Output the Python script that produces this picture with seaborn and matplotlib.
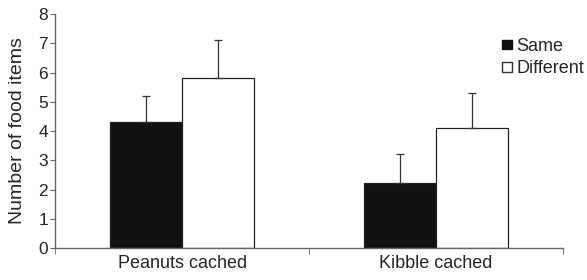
import numpy as np
import pandas as pd
import matplotlib
matplotlib.use('Agg')
import matplotlib.pyplot as plt
import seaborn as sns
from matplotlib.patches import Patch

categories = ['Peanuts cached', 'Kibble cached']
groups = ['Same', 'Different']
same_means = [4.32, 2.21]
diff_means = [5.82, 4.11]
same_err = [0.88, 0.99]
diff_err = [1.29, 1.18]

df = pd.DataFrame({
    'category': categories * 2,
    'group': [groups[0]] * 2 + [groups[1]] * 2,
    'value': same_means + diff_means,
    'err': same_err + diff_err,
})

sns.set_style('ticks')
plt.rcParams['font.family'] = ['Liberation Sans', 'DejaVu Sans']

fig = plt.figure(figsize=(5.87, 2.8), dpi=100)
ax = fig.add_axes([0.094, 0.114, 0.865, 0.836])

sns.barplot(
    data=df, x='category', y='value', hue='group',
    order=categories, hue_order=groups,
    palette={'Same': '#111111', 'Different': 'white'},
    width=0.565, errorbar=None, edgecolor='#222222', linewidth=0.9,
    legend=False, ax=ax,
)

# one-sided error bars on top of each bar
for container, g in zip(ax.containers, groups):
    errs = df[df['group'] == g].set_index('category').loc[categories, 'err'].values
    for bar, e in zip(container, errs):
        xc = bar.get_x() + bar.get_width() / 2
        ax.errorbar(xc, bar.get_height(), yerr=[[0], [e]], fmt='none',
                    ecolor='#333333', elinewidth=0.9, capsize=2.6, capthick=0.9)

ax.set_xlim(-0.5, 1.5)
ax.set_ylim(0, 8)
ax.set_yticks(range(9))
ax.set_xticks([-0.5, 0.5, 1.5], minor=True)
ax.tick_params(axis='x', which='major', length=0, labelsize=13, pad=5)
ax.tick_params(axis='x', which='minor', length=4, direction='out', color='#666666')
ax.tick_params(axis='y', length=3.5, labelsize=12.5, pad=1.5, color='#666666')
ax.set_xlabel('')
ax.set_ylabel('Number of food items', fontsize=14)
ax.yaxis.set_label_coords(-0.057, 0.5)
for s in ['top', 'right']:
    ax.spines[s].set_visible(False)
for s in ['left', 'bottom']:
    ax.spines[s].set_color('#666666')
    ax.spines[s].set_linewidth(1.0)

handles = [Patch(facecolor='#111111', edgecolor='#111111', label='Same'),
           Patch(facecolor='white', edgecolor='#333333', label='Different')]
fig.legend(handles=handles, loc='upper left', bbox_to_anchor=(0.855, 0.865),
           frameon=False, fontsize=13, handlelength=0.55, handleheight=0.45,
           handletextpad=0.25, labelspacing=0.3, borderpad=0, borderaxespad=0)

fig.savefig('out.png', dpi=100)
